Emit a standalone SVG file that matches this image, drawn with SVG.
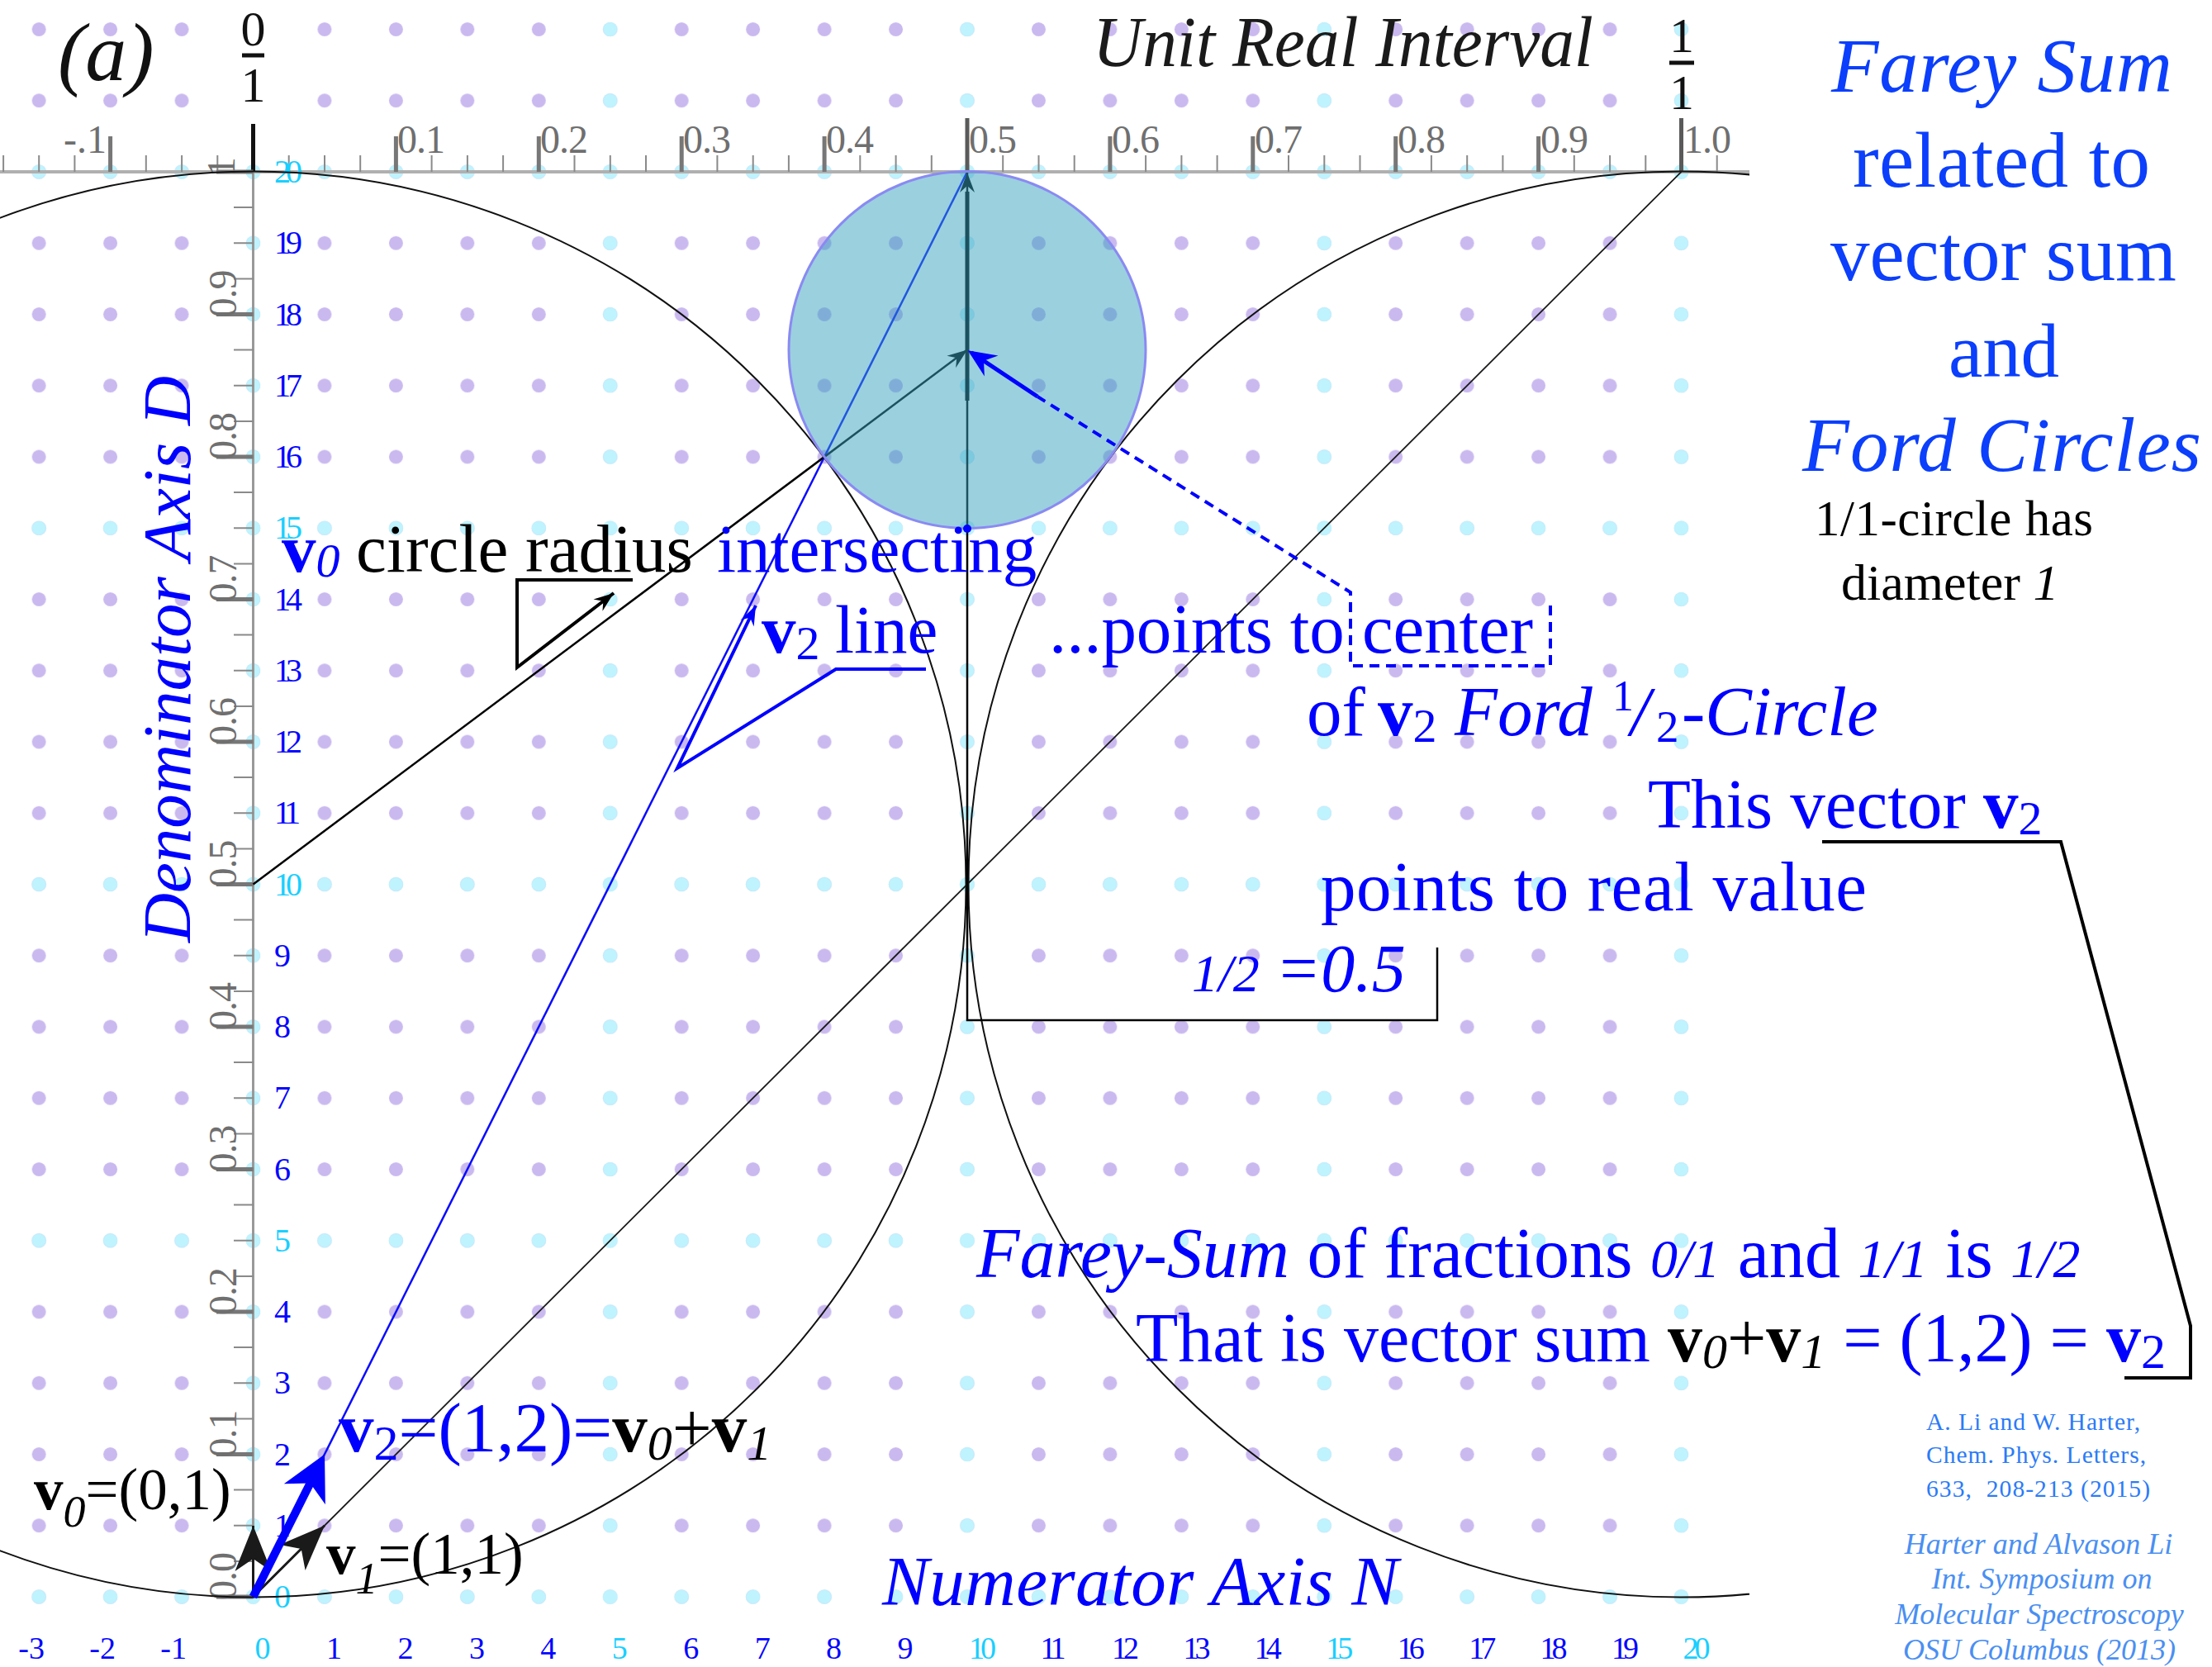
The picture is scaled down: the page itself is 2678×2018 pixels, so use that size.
<svg xmlns="http://www.w3.org/2000/svg" width="2678" height="2018" viewBox="0 0 2678 2018">
<style>
text{font-family:"Liberation Serif","Times New Roman",serif}
.it{font-style:italic}
.b{font-weight:bold}
.blue{fill:#0000ff}
.ttl{fill:#0b3ffc}
.ax{fill:#6f6f6f;font-size:48px}
.dl{font-size:40px;fill:#0606ff}
.nl{font-size:38px;fill:#0606ff}
.cy{fill:#19cfff}
.cr{fill:#2b7bf7;font-size:29.5px}
.cri{fill:#4a8ff2;font-size:36px;font-style:italic}
.tk{stroke:#8a8a8a;stroke-width:2;fill:none}
.tkM{stroke:#777;stroke-width:5;fill:none}
</style>
<defs>
<pattern id="pDot" patternUnits="userSpaceOnUse" x="263.275" y="1889.875" width="86.45" height="86.25"><circle cx="43.225" cy="43.125" r="8.5" fill="#c9b9ef"/></pattern>
<pattern id="pRow" patternUnits="userSpaceOnUse" x="263.275" y="1889.875" width="86.45" height="431.25"><circle cx="43.225" cy="43.125" r="8.7" fill="#bff3fd"/></pattern>
<pattern id="pCol" patternUnits="userSpaceOnUse" x="263.275" y="1889.875" width="432.25" height="86.25"><circle cx="43.225" cy="43.125" r="8.7" fill="#bff3fd"/></pattern>
<clipPath id="plotClip"><rect x="0" y="0" width="2118" height="2018"/></clipPath>
<marker id="mBigK" viewBox="-60 -30 60 60" markerUnits="userSpaceOnUse" markerWidth="60" markerHeight="60" refX="0" refY="0" orient="auto"><path d="M0,0 L-55,-22 L-40,0 L-55,22 Z" fill="#1a1a1a"/></marker>
<marker id="mBigB" viewBox="-60 -30 60 60" markerUnits="userSpaceOnUse" markerWidth="60" markerHeight="60" refX="-36" refY="0" orient="auto"><path d="M0,0 L-54,-28 L-39,0 L-54,28 Z" fill="#0000ff"/></marker>
<marker id="mSmK" viewBox="-26 -12 26 24" markerUnits="userSpaceOnUse" markerWidth="26" markerHeight="24" refX="0" refY="0" orient="auto"><path d="M0,0 L-24,-9 L-16,0 L-24,9 Z" fill="#000"/></marker>
<marker id="mSmB" viewBox="-26 -12 26 24" markerUnits="userSpaceOnUse" markerWidth="26" markerHeight="24" refX="0" refY="0" orient="auto"><path d="M0,0 L-24,-9 L-16,0 L-24,9 Z" fill="#0000ff"/></marker>
<marker id="mMidB" viewBox="-36 -18 36 36" markerUnits="userSpaceOnUse" markerWidth="36" markerHeight="36" refX="-5" refY="0" orient="auto"><path d="M0,0 L-34,-15 L-23,0 L-34,15 Z" fill="#0000ff"/></marker>
</defs>
<rect width="2678" height="2018" fill="#fff"/>

<g id="lattice">
<rect x="4" y="0" width="2075" height="1976" fill="url(#pDot)"/>
<rect x="4" y="0" width="2075" height="1976" fill="url(#pRow)"/>
<rect x="4" y="0" width="2075" height="1976" fill="url(#pCol)"/>
<circle cx="306.5" cy="35.5" r="11" fill="#fff"/>
<circle cx="306.5" cy="121.75" r="11" fill="#fff"/>
</g>

<g id="top-axis">
<line x1="0" y1="208" x2="2118" y2="208" stroke="#b0b0b0" stroke-width="4"/>
<path class="tk" d="M4.1,188V208M47.2,188V208M90.4,188V208M176.8,188V208M220.1,188V208M263.3,188V208M349.7,188V208M393,188V208M436.2,188V208M522.6,188V208M565.9,188V208M609.1,188V208M695.5,188V208M738.8,188V208M782,188V208M868.4,188V208M911.7,188V208M954.9,188V208M1041.3,188V208M1084.6,188V208M1127.8,188V208M1214.2,188V208M1257.5,188V208M1300.7,188V208M1387.1,188V208M1430.4,188V208M1473.6,188V208M1560,188V208M1603.3,188V208M1646.5,188V208M1732.9,188V208M1776.2,188V208M1819.4,188V208M1905.8,188V208M1949.1,188V208M1992.3,188V208M2078.7,188V208"/>
<path class="tkM" d="M133.6,165V208M479.4,165V208M652.3,165V208M825.2,165V208M998.1,165V208M1343.9,165V208M1516.8,165V208M1689.7,165V208M1862.6,165V208"/>
<path d="M1171,143V208M2035.5,143V208" stroke="#5a5a5a" stroke-width="5"/>
<line x1="306.5" y1="150" x2="306.5" y2="208" stroke="#111" stroke-width="5"/>
<text class="ax" x="129" y="185" text-anchor="end">-.1</text>
<text class="ax" x="481" y="185" textLength="58">0.1</text>
<text class="ax" x="654" y="185" textLength="58">0.2</text>
<text class="ax" x="827" y="185" textLength="58">0.3</text>
<text class="ax" x="1000" y="185" textLength="58">0.4</text>
<text class="ax" x="1173" y="185" textLength="58">0.5</text>
<text class="ax" x="1346" y="185" textLength="58">0.6</text>
<text class="ax" x="1519" y="185" textLength="58">0.7</text>
<text class="ax" x="1692" y="185" textLength="58">0.8</text>
<text class="ax" x="1865" y="185" textLength="58">0.9</text>
<text class="ax" x="2038" y="185" textLength="58">1.0</text>
<text x="306.5" y="55" font-size="60" text-anchor="middle" fill="#111">0</text>
<line x1="293" y1="67" x2="320" y2="67" stroke="#111" stroke-width="5"/>
<text x="306.5" y="123" font-size="60" text-anchor="middle" fill="#111">1</text>
<text x="2036" y="63" font-size="60" text-anchor="middle" fill="#111">1</text>
<line x1="2021" y1="76" x2="2051" y2="76" stroke="#111" stroke-width="5"/>
<text x="2036" y="132" font-size="60" text-anchor="middle" fill="#111">1</text>
<text x="1323" y="80" font-size="86" class="it" fill="#1a1a1a" textLength="606" lengthAdjust="spacingAndGlyphs">Unit Real Interval</text>
</g>

<g id="y-axis">
<line x1="306.5" y1="208" x2="306.5" y2="1935" stroke="#999" stroke-width="3"/>
<path class="tk" d="M283,1889.9H306.5M283,1846.8H306.5M283,1803.6H306.5M283,1717.4H306.5M283,1674.3H306.5M283,1631.1H306.5M283,1544.9H306.5M283,1501.8H306.5M283,1458.6H306.5M283,1372.4H306.5M283,1329.3H306.5M283,1286.1H306.5M283,1199.9H306.5M283,1156.8H306.5M283,1113.6H306.5M283,1027.4H306.5M283,984.3H306.5M283,941.1H306.5M283,854.9H306.5M283,811.8H306.5M283,768.6H306.5M283,682.4H306.5M283,639.3H306.5M283,596.1H306.5M283,509.9H306.5M283,466.8H306.5M283,423.6H306.5M283,337.4H306.5M283,294.3H306.5M283,251.1H306.5"/>
<path class="tkM" d="M262,1933H306.5M262,1760.5H306.5M262,1588H306.5M262,1415.5H306.5M262,1243H306.5M262,1070.5H306.5M262,898H306.5M262,725.5H306.5M262,553H306.5M262,380.5H306.5M262,208H306.5"/>
<text class="ax" transform="translate(286,1937) rotate(-90)" textLength="58">0.0</text>
<text class="ax" transform="translate(286,1764.5) rotate(-90)" textLength="58">0.1</text>
<text class="ax" transform="translate(286,1592) rotate(-90)" textLength="58">0.2</text>
<text class="ax" transform="translate(286,1419.5) rotate(-90)" textLength="58">0.3</text>
<text class="ax" transform="translate(286,1247) rotate(-90)" textLength="58">0.4</text>
<text class="ax" transform="translate(286,1074.5) rotate(-90)" textLength="58">0.5</text>
<text class="ax" transform="translate(286,902) rotate(-90)" textLength="58">0.6</text>
<text class="ax" transform="translate(286,729.5) rotate(-90)" textLength="58">0.7</text>
<text class="ax" transform="translate(286,557) rotate(-90)" textLength="58">0.8</text>
<text class="ax" transform="translate(286,384.5) rotate(-90)" textLength="58">0.9</text>
<text class="ax" transform="translate(284,214) rotate(-90)">1</text>
<text class="it blue" font-size="83" transform="translate(230,1141) rotate(-90)" textLength="686">Denominator Axis D</text>
</g>

<g id="d-labels">
<text class="dl cy" x="332" y="1946">0</text>
<text class="dl" x="332" y="1860">1</text>
<text class="dl" x="332" y="1773.5">2</text>
<text class="dl" x="332" y="1687.3">3</text>
<text class="dl" x="332" y="1601">4</text>
<text class="dl cy" x="332" y="1514.8">5</text>
<text class="dl" x="332" y="1428.5">6</text>
<text class="dl" x="332" y="1342.3">7</text>
<text class="dl" x="332" y="1256">8</text>
<text class="dl" x="332" y="1169.8">9</text>
<text class="dl cy" x="332" y="1083.5" textLength="34">10</text>
<text class="dl" x="332" y="997.3" textLength="32">11</text>
<text class="dl" x="332" y="911" textLength="34">12</text>
<text class="dl" x="332" y="824.8" textLength="34">13</text>
<text class="dl" x="332" y="738.5" textLength="34">14</text>
<text class="dl cy" x="332" y="652.3" textLength="34">15</text>
<text class="dl" x="332" y="566" textLength="34">16</text>
<text class="dl" x="332" y="479.8" textLength="34">17</text>
<text class="dl" x="332" y="393.5" textLength="34">18</text>
<text class="dl" x="332" y="307.3" textLength="34">19</text>
<text class="dl cy" x="332" y="221" textLength="34">20</text>
</g>

<g id="n-labels">
<text class="nl" x="54" y="2008" text-anchor="end">-3</text>
<text class="nl" x="140" y="2008" text-anchor="end">-2</text>
<text class="nl" x="226" y="2008" text-anchor="end">-1</text>
<text class="nl cy" x="308.5" y="2008">0</text>
<text class="nl" x="395" y="2008">1</text>
<text class="nl" x="481.4" y="2008">2</text>
<text class="nl" x="567.9" y="2008">3</text>
<text class="nl" x="654.3" y="2008">4</text>
<text class="nl cy" x="740.8" y="2008">5</text>
<text class="nl" x="827.2" y="2008">6</text>
<text class="nl" x="913.7" y="2008">7</text>
<text class="nl" x="1000.1" y="2008">8</text>
<text class="nl" x="1086.6" y="2008">9</text>
<text class="nl cy" x="1173" y="2008" textLength="33">10</text>
<text class="nl" x="1259.5" y="2008" textLength="31">11</text>
<text class="nl" x="1345.9" y="2008" textLength="33">12</text>
<text class="nl" x="1432.4" y="2008" textLength="33">13</text>
<text class="nl" x="1518.8" y="2008" textLength="33">14</text>
<text class="nl cy" x="1605.3" y="2008" textLength="33">15</text>
<text class="nl" x="1691.7" y="2008" textLength="33">16</text>
<text class="nl" x="1778.2" y="2008" textLength="33">17</text>
<text class="nl" x="1864.6" y="2008" textLength="33">18</text>
<text class="nl" x="1951.1" y="2008" textLength="33">19</text>
<text class="nl cy" x="2037.5" y="2008" textLength="33">20</text>
<text class="it blue" x="1068" y="1943" font-size="85" textLength="625">Numerator Axis N</text>
</g>

<g id="farey-circles">
<circle cx="306.5" cy="1070.5" r="863" fill="none" stroke="#111" stroke-width="2"/>
<circle cx="2035.5" cy="1070.5" r="863" fill="none" stroke="#111" stroke-width="2" clip-path="url(#plotClip)"/>
</g>

<g id="connectors">
<line x1="306.5" y1="1933" x2="2035.5" y2="208" stroke="#1a1a1a" stroke-width="1.8"/>
<line x1="306.5" y1="1933" x2="1171" y2="208" stroke="#0b0bff" stroke-width="2.5"/>
<line x1="306.5" y1="1070.5" x2="1171" y2="423.6" stroke="#000" stroke-width="2.5" marker-end="url(#mSmK)"/>
<polyline points="1740,1147 1740,1235 1171,1235 1171,209" fill="none" stroke="#000" stroke-width="2.5" marker-end="url(#mSmK)"/>
<line x1="1171" y1="232" x2="1171" y2="485" stroke="#000" stroke-width="5"/>
</g>

<g id="ford-half-circle">
<circle cx="1171" cy="423.6" r="216" fill="#37a1bf" fill-opacity="0.5" stroke="#8a8af2" stroke-width="3"/>
<circle cx="1171" cy="640" r="5" fill="#0000ff"/>
</g>

<g id="callouts">
<polyline points="766,702 626,702 626,808 743,718" fill="none" stroke="#000" stroke-width="4" marker-end="url(#mSmK)"/>
<polyline points="1121,810 1012,810 820,930 915,733" fill="none" stroke="#0000ff" stroke-width="4" marker-end="url(#mSmB)"/>
<polyline points="1877,733 1877,806 1635,806 1635,717 1256,480" fill="none" stroke="#0000ff" stroke-width="4" stroke-dasharray="12,8"/>
<line x1="1256" y1="480" x2="1176" y2="426.9" stroke="#0000ff" stroke-width="5" marker-end="url(#mMidB)"/>
<polyline points="2206,1019 2495,1019 2652,1605 2652,1668 2572,1668" fill="none" stroke="#000" stroke-width="4"/>
</g>

<g id="basis-vectors">
<line x1="306.5" y1="1933" x2="306.5" y2="1847" stroke="#1a1a1a" stroke-width="3" marker-end="url(#mBigK)"/>
<line x1="306.5" y1="1933" x2="393" y2="1846.7" stroke="#1a1a1a" stroke-width="3" marker-end="url(#mBigK)"/>
<line x1="306.5" y1="1933" x2="376.9" y2="1792.7" stroke="#0000ff" stroke-width="10" marker-end="url(#mBigB)"/>
</g>

<g id="panel-label">
<text x="70" y="97" font-size="100" class="it" fill="#111">(a)</text>
</g>

<g id="title">
<text class="ttl it" x="2217" y="111" font-size="94" textLength="413">Farey Sum</text>
<text class="ttl" x="2243" y="226" font-size="95" textLength="360">related to</text>
<text class="ttl" x="2216" y="339" font-size="95" textLength="419">vector sum</text>
<text class="ttl" x="2359" y="456" font-size="93" textLength="134">and</text>
<text class="ttl it" x="2182" y="570" font-size="93" textLength="483">Ford Circles</text>
<text x="2197" y="648" font-size="61" fill="#000" textLength="337">1/1-circle has</text>
<text x="2229" y="726" font-size="62" fill="#000">diameter <tspan class="it">1</tspan></text>
</g>

<g id="annotations">
<text x="341" y="692" font-size="83"><tspan class="b blue">v</tspan><tspan class="it blue" font-size="58" dy="6">0</tspan><tspan x="431" dy="-6" fill="#000">circle radius</tspan><tspan x="868" class="blue">intersecting</tspan></text>
<text x="922" y="790" font-size="83" class="blue"><tspan class="b">v</tspan><tspan font-size="58" dy="8">2</tspan><tspan x="1011" dy="-8">line</tspan></text>
<text x="1270" y="790" font-size="85" class="blue" textLength="586">...points to center</text>
<text y="890" font-size="85" class="blue"><tspan x="1582">of</tspan><tspan x="1668" class="b">v</tspan><tspan font-size="58" dy="8">2</tspan><tspan x="1761" dy="-8" class="it">Ford</tspan><tspan x="1952" font-size="52" dy="-30">1</tspan><tspan x="1974" dy="30" class="it">/</tspan><tspan x="2005" font-size="55" dy="8">2</tspan><tspan x="2036" dy="-8" class="it">-Circle</tspan></text>
<text x="1995" y="1002" font-size="85" class="blue">This vector <tspan class="b">v</tspan><tspan font-size="58" dy="8">2</tspan></text>
<text x="1599" y="1102" font-size="85" class="blue" textLength="661">points to real value</text>
<text y="1200" class="blue it"><tspan x="1443" font-size="64">1/2</tspan><tspan x="1544" font-size="82">=0.5</tspan></text>
<text x="1182" y="1546" font-size="86" class="blue"><tspan class="it">Farey-Sum</tspan> of fractions <tspan class="it" font-size="66">0/1</tspan> and <tspan class="it" font-size="66">1/1</tspan> is <tspan class="it" font-size="66">1/2</tspan></text>
<text x="1375" y="1648" font-size="84" class="blue">That is vector sum <tspan class="b" fill="#000">v</tspan><tspan class="it" fill="#000" font-size="60" dy="8">0</tspan><tspan fill="#000" dy="-8">+</tspan><tspan class="b" fill="#000">v</tspan><tspan class="it" fill="#000" font-size="60" dy="8">1</tspan><tspan dy="-8"> = (1,2) = </tspan><tspan class="b">v</tspan><tspan font-size="60" dy="8">2</tspan></text>
<text x="410" y="1757" font-size="85" class="blue"><tspan class="b">v</tspan><tspan font-size="60" dy="10">2</tspan><tspan dy="-10">=(1,2)=</tspan><tspan class="b" fill="#000">v</tspan><tspan class="it" fill="#000" font-size="60" dy="10">0</tspan><tspan fill="#000" dy="-10">+</tspan><tspan class="b" fill="#000">v</tspan><tspan class="it" fill="#000" font-size="60" dy="10">1</tspan></text>
<text x="41" y="1827" font-size="71" fill="#000"><tspan class="b">v</tspan><tspan class="it" font-size="54" dy="21">0</tspan><tspan dy="-21">=(0,1)</tspan></text>
<text x="395" y="1905" font-size="71" fill="#000"><tspan class="b">v</tspan><tspan class="it" font-size="54" dy="24">1</tspan><tspan dy="-24">=(1,1)</tspan></text>
</g>

<g id="credits">
<text class="cr" x="2332" y="1731" textLength="259">A. Li and W. Harter,</text>
<text class="cr" x="2332" y="1771" textLength="266">Chem. Phys. Letters,</text>
<text class="cr" x="2332" y="1812" xml:space="preserve" textLength="271">633,  208-213 (2015)</text>
<text class="cri" x="2468" y="1881" text-anchor="middle">Harter and Alvason Li</text>
<text class="cri" x="2472" y="1923" text-anchor="middle">Int. Symposium on</text>
<text class="cri" x="2469" y="1966" text-anchor="middle">Molecular Spectroscopy</text>
<text class="cri" x="2469" y="2009" text-anchor="middle">OSU Columbus (2013)</text>
</g>
</svg>
